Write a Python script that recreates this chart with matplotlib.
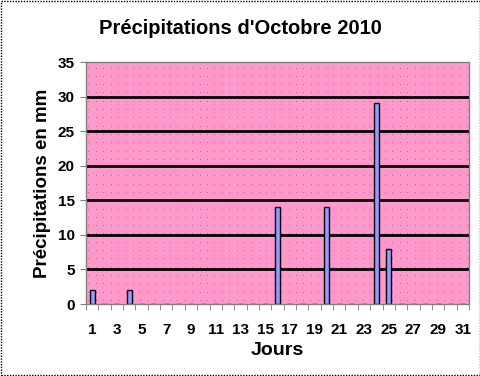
import matplotlib
matplotlib.use("Agg")
import matplotlib.pyplot as plt
import numpy as np
from matplotlib.patches import Rectangle

days = list(range(1, 32))
rain = [2, 0, 0, 2, 0, 0, 0, 0, 0, 0, 0, 0, 0, 0, 0, 14, 0, 0, 0, 14,
        0, 0, 0, 29, 8, 0, 0, 0, 0, 0, 0]
yticks = [0, 5, 10, 15, 20, 25, 30, 35]

plt.rcParams['font.family'] = ['Liberation Sans', 'DejaVu Sans']
fig = plt.figure(figsize=(4.81, 3.76), dpi=100)
ax = fig.add_axes([86/481, 1-304/376, (469-86)/481, (304-62)/376])

ax.set_facecolor('#FF99CC')
x = np.arange(len(days))
# decorative dotted pattern of the plot background
gx, gy = np.meshgrid(np.arange(-0.3, 30.5, 0.6), np.arange(0.6, 35, 1.2))
ax.scatter(gx.ravel(), gy.ravel(), s=0.5, color='#E0508A', zorder=0.5, linewidths=0)
for yv in yticks[1:-1]:
    ax.axhline(yv, color='black', lw=2, zorder=1)
ax.bar(x, rain, width=0.4, color='#9999FF', edgecolor='black', linewidth=1, zorder=2)

ax.set_xlim(-0.5, len(days) - 0.5)
ax.set_ylim(0, 35)
ax.set_yticks(yticks)
ax.set_yticklabels([str(v) for v in yticks], fontsize=11, fontweight='bold')
ax.set_xticks(x[::2])
ax.set_xticklabels([str(d) for d in days[::2]], fontsize=11, fontweight='bold')
ax.set_xticks(np.arange(-0.5, len(days)), minor=True)
ax.tick_params(axis='x', which='major', length=0, pad=14)
ax.tick_params(axis='x', which='minor', length=4, color='#808080', direction='out')
ax.tick_params(axis='y', length=4, color='#808080', direction='out', pad=4)
for s in ax.spines.values():
    s.set_color('#808080')
    s.set_linestyle((0, (1, 1)))
    s.set_linewidth(1)

ax.set_xlabel('Jours', fontsize=14, fontweight='bold', labelpad=3)
ax.set_ylabel('Précipitations en mm', fontsize=13.5, fontweight='bold', labelpad=5)
fig.text(0.5, 1-28/376, "Précipitations d'Octobre 2010", ha='center', va='center',
         fontsize=14.5, fontweight='bold')

fig.patches.append(Rectangle((0.002, 0.002), 0.995, 0.995, transform=fig.transFigure,
                             fill=False, edgecolor='black', linestyle=(0, (1, 1)), lw=1))
fig.savefig('out.png', dpi=100)
